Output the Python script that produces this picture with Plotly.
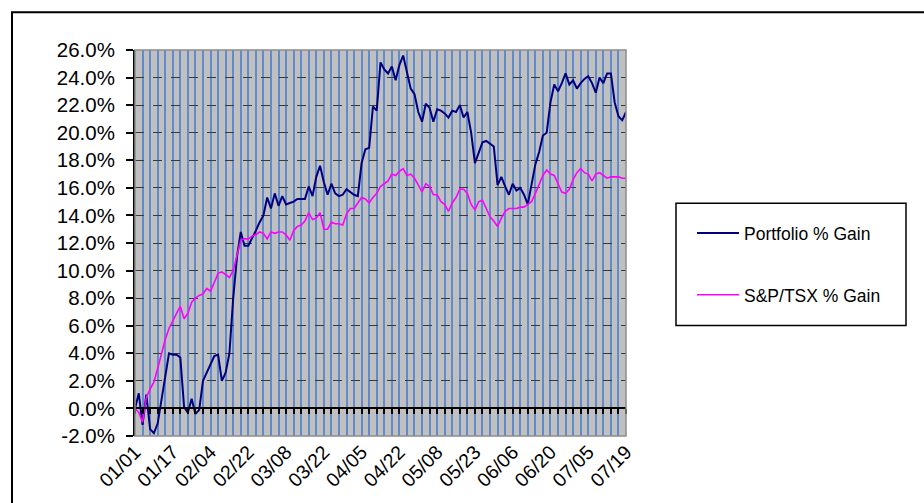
import plotly.graph_objects as go

# ---- data (percent gain, one value per trading day) ----
portfolio = [
    0.0, 1.1, -1.2, 1.0, -1.5, -1.8, -1.1, 0.6, 2.5, 4.0,
    3.9, 3.9, 3.7, 0.1, -0.3, 0.7, -0.4, -0.1, 2.0, 2.6,
    3.2, 3.8, 3.9, 2.0, 2.6, 4.0, 8.0, 11.0, 12.8, 11.8,
    11.8, 12.3, 12.9, 13.5, 14.0, 15.3, 14.5, 15.6, 14.7, 15.4,
    14.8, 14.9, 15.0, 15.2, 15.2, 15.2, 16.1, 15.4, 16.8, 17.6,
    16.4, 15.5, 16.3, 15.6, 15.4, 15.5, 15.9, 15.7, 15.5, 15.4,
    17.8, 18.8, 18.9, 21.9, 21.6, 25.1, 24.6, 24.3, 24.8, 23.8,
    24.9, 25.6, 24.3, 23.2, 22.8, 21.5, 20.8, 22.1, 21.8, 20.8,
    21.7, 21.6, 21.4, 21.1, 21.6, 21.5, 22.0, 21.1, 21.5, 20.0,
    17.8, 18.6, 19.3, 19.4, 19.2, 19.0, 16.2, 16.8, 16.1, 15.5,
    16.3, 15.8, 16.0, 15.5, 14.8, 16.3, 17.7, 18.6, 19.8, 20.0,
    22.2, 23.5, 23.0, 23.6, 24.3, 23.5, 23.8, 23.2, 23.6, 23.9,
    24.1, 23.6, 22.9, 24.0, 23.6, 24.3, 24.3, 22.2, 21.2, 20.9,
    21.5,
]
tsx = [
    0.0, -0.3, -1.0, 0.8, 1.4, 1.9, 2.9, 4.0, 5.0, 5.8,
    6.4, 6.9, 7.4, 6.5, 6.9, 7.7, 8.0, 8.2, 8.3, 8.7,
    8.5, 9.2, 9.8, 9.9, 9.7, 9.5, 10.0, 11.2, 12.2, 12.3,
    12.3, 12.5, 12.6, 12.8, 12.7, 12.3, 12.8, 12.7, 12.8, 12.8,
    12.6, 12.2, 12.9, 13.2, 13.3, 13.6, 14.2, 13.7, 13.8, 14.2,
    13.0, 13.0, 13.5, 13.4, 13.4, 13.3, 14.1, 14.5, 14.5, 14.9,
    15.3, 15.2, 14.9, 15.3, 15.6, 16.1, 16.3, 16.5, 17.0, 16.9,
    17.2, 17.4, 16.9, 17.0, 16.7, 16.2, 15.7, 16.3, 16.1, 15.5,
    15.5, 15.0, 14.8, 14.3, 14.9, 15.3, 15.9, 15.9, 15.6, 14.8,
    14.4, 15.0, 15.1, 14.5, 13.9, 13.6, 13.2, 13.8, 14.3, 14.5,
    14.5, 14.5, 14.6, 14.6, 14.8, 15.0, 15.6, 16.3, 16.9, 17.3,
    17.0, 16.9, 16.3, 15.7, 15.6, 15.9, 16.6, 17.1, 17.4, 17.1,
    17.0, 16.5, 17.0, 17.1, 16.9, 16.7, 16.8, 16.8, 16.8, 16.7,
    16.7,
]
date_labels = ["01/01", "01/17", "02/04", "02/22", "03/08", "03/22", "04/05",
               "04/22", "05/08", "05/23", "06/06", "06/20", "07/05", "07/19"]
y_ticks = [-2, 0, 2, 4, 6, 8, 10, 12, 14, 16, 18, 20, 22, 24, 26]
y_labels = ["-2.0%", "0.0%", "2.0%", "4.0%", "6.0%", "8.0%", "10.0%", "12.0%",
            "14.0%", "16.0%", "18.0%", "20.0%", "22.0%", "24.0%", "26.0%"]
series_names = ["Portfolio % Gain", "S&P/TSX % Gain"]

n = len(portfolio)
x = list(range(n))
label_step = 10
tick_pos = [i * label_step for i in range(len(date_labels))]

FONT = "Liberation Sans, Arial, sans-serif"
GRID_BLUE = "#608CCE"

fig = go.Figure()
fig.add_trace(go.Scatter(x=x, y=portfolio, mode="lines", name=series_names[0],
                         line=dict(color="#000080", width=2), legendgroup="a",
                         xaxis="x", yaxis="y"))
fig.add_trace(go.Scatter(x=x, y=tsx, mode="lines", name=series_names[1],
                         line=dict(color="#FF00FF", width=1.6), legendgroup="b",
                         xaxis="x2", yaxis="y"))

W, H = 491, 388
L, T = 135, 50


def px(xp):
    return (xp - L) / W


def py(yp):
    return (T + H - yp) / H


fig.update_layout(
    width=924, height=503,
    margin=dict(l=L, r=924 - L - W, t=T, b=503 - T - H, pad=0),
    paper_bgcolor="white", plot_bgcolor="#C0C0C0",
    font=dict(family=FONT, size=16, color="black"),
    xaxis=dict(range=[0, n - 1], tickmode="array", tickvals=tick_pos, ticktext=date_labels,
               tickangle=-45, showgrid=True, gridcolor=GRID_BLUE, gridwidth=1.6,
               minor=dict(tick0=0, dtick=2, showgrid=True, gridcolor=GRID_BLUE, gridwidth=1.6),
               zeroline=False, showline=False, ticks="", tickfont=dict(size=19.5),
               fixedrange=True),
    xaxis2=dict(overlaying="x", matches="x", anchor="free", position=2 / 28, side="bottom",
                tickmode="linear", tick0=0, dtick=2, ticks="outside", ticklen=5,
                tickwidth=1.5, tickcolor="black", showticklabels=False, showgrid=False,
                zeroline=False, showline=True, linecolor="black", linewidth=2),
    yaxis=dict(range=[-2, 26], tickmode="array", tickvals=y_ticks, ticktext=y_labels,
               showgrid=True, gridcolor="#3a3a3a", griddash="dash", gridwidth=1,
               zeroline=False, showline=True, linecolor="black", linewidth=2,
               ticks="outside", ticklen=7, tickwidth=2, tickcolor="black",
               ticklabelstandoff=7, tickfont=dict(size=20.5)),
    showlegend=True,
    legend=dict(x=px(692), y=py(216), xanchor="left", yanchor="top",
                bgcolor="rgba(0,0,0,0)", borderwidth=0, font=dict(size=17.5),
                traceorder="grouped", tracegroupgap=36, itemwidth=42),
    shapes=[
        # plot area frame
        dict(type="rect", xref="paper", yref="paper", x0=0, x1=1, y0=0, y1=1,
             line=dict(color="#8c8c8c", width=1.5), layer="above"),
        # outer chart frame
        dict(type="rect", xref="paper", yref="paper", x0=px(12), x1=px(940),
             y0=py(520), y1=py(12), line=dict(color="black", width=2)),
        # legend frame
        dict(type="rect", xref="paper", yref="paper", x0=px(676), x1=px(906),
             y0=py(327), y1=py(204), line=dict(color="black", width=1.5)),
    ],
)

fig.write_html("out.html")
